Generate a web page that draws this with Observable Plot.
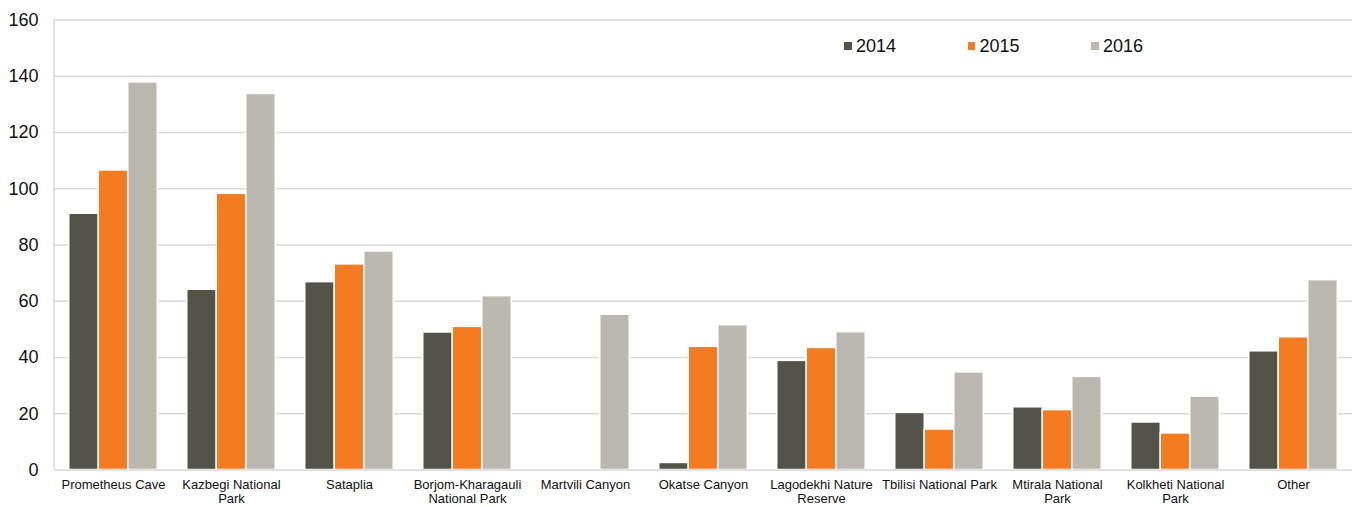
<!DOCTYPE html>
<html><head><meta charset="utf-8">
<script src="https://cdn.jsdelivr.net/npm/d3@7"></script>
<script src="https://cdn.jsdelivr.net/npm/@observablehq/plot@0.6"></script>
<style>
body{margin:0;background:#fff;font-family:"Liberation Sans",Arial,sans-serif;}
#wrap{position:relative;width:1357px;height:507px;}
#legend{position:absolute;top:35px;left:844px;display:flex;font-size:18px;color:#111;line-height:22px;}
.item{width:123.5px;display:flex;align-items:center;}
.sw{width:7.5px;height:7.5px;margin-right:4.5px;}
</style></head><body><div id="wrap"><div id="legend"></div></div>
<script>
const categories = ["Prometheus Cave","Kazbegi National Park","Sataplia","Borjom-Kharagauli National Park","Martvili Canyon","Okatse Canyon","Lagodekhi Nature Reserve","Tbilisi National Park","Mtirala National Park","Kolkheti National Park","Other"];
const tickLabels = ["Prometheus Cave","Kazbegi National\nPark","Sataplia","Borjom-Kharagauli\nNational Park","Martvili Canyon","Okatse Canyon","Lagodekhi Nature\nReserve","Tbilisi National Park","Mtirala National\nPark","Kolkheti National\nPark","Other"];
const years = ["2014","2015","2016"];
const v2014 = [91.1, 64.1, 66.8, 48.9, null, 2.5, 38.8, 20.3, 22.3, 16.9, 42.2];
const v2015 = [106.5, 98.2, 73.1, 50.9, null, 43.8, 43.4, 14.4, 21.3, 13.0, 47.2];
const v2016 = [137.8, 133.7, 77.7, 61.8, 55.2, 51.5, 49.0, 34.7, 33.1, 26.1, 67.5];
const colors = ["#53534a","#f47b20","#bbb8af"];
const yTicks = [0,20,40,60,80,100,120,140,160];

const series = [v2014, v2015, v2016];
const rows = [];
const xDomain = [];
categories.forEach((c, i) => {
  years.forEach((y, j) => {
    xDomain.push(`${i}|${y}`);
    const v = series[j][i];
    if (v != null) rows.push({category: c, key: `${i}|${y}`, year: y, value: v});
  });
  if (i < categories.length - 1) xDomain.push(`${i}|gap`);
});

const chart = Plot.plot({
  width: 1357, height: 507,
  marginLeft: 54, marginRight: 5, marginTop: 19.5, marginBottom: 37.5,
  style: {fontFamily: "Liberation Sans, Arial, sans-serif", background: "white", color: "#111"},
  x: {type: "band", domain: xDomain, paddingInner: 0, paddingOuter: 0.5, round: false, axis: null, label: null},
  y: {domain: [0, 160], axis: null, label: null},
  color: {domain: years, range: colors},
  marks: [
    Plot.ruleY(yTicks.filter(t => t > 0), {stroke: "#d9d9d9", strokeWidth: 1.5}),
    Plot.barY(rows, {x: "key", y: "value", fill: "year", stroke: "white", strokeWidth: 1.5}),
    Plot.ruleY([0], {stroke: "#d9d9d9", strokeWidth: 1.5}),
    Plot.axisY({ticks: yTicks, tickSize: 0, tickPadding: 16, fontSize: 18, fill: "#111", label: null}),
    Plot.axisX({ticks: categories.map((c, i) => `${i}|2015`), tickFormat: k => tickLabels[+k.split("|")[0]],
      tickSize: 0, tickPadding: 9, fontSize: 13, lineHeight: 1.1, fill: "#111", label: null})
  ]
});

const xs = chart.scale("x"), ys = chart.scale("y");
d3.select(chart).append("line")
  .attr("x1", xs.range[0]).attr("x2", xs.range[0])
  .attr("y1", ys.apply(0)).attr("y2", ys.apply(160))
  .attr("stroke", "#d9d9d9").attr("stroke-width", 1.5);

document.getElementById("wrap").prepend(chart);
const legend = document.getElementById("legend");
years.forEach((y, j) => {
  const it = document.createElement("div"); it.className = "item";
  const sw = document.createElement("span"); sw.className = "sw"; sw.style.background = colors[j];
  const t = document.createElement("span"); t.textContent = y;
  it.append(sw, t); legend.append(it);
});
</script></body></html>
